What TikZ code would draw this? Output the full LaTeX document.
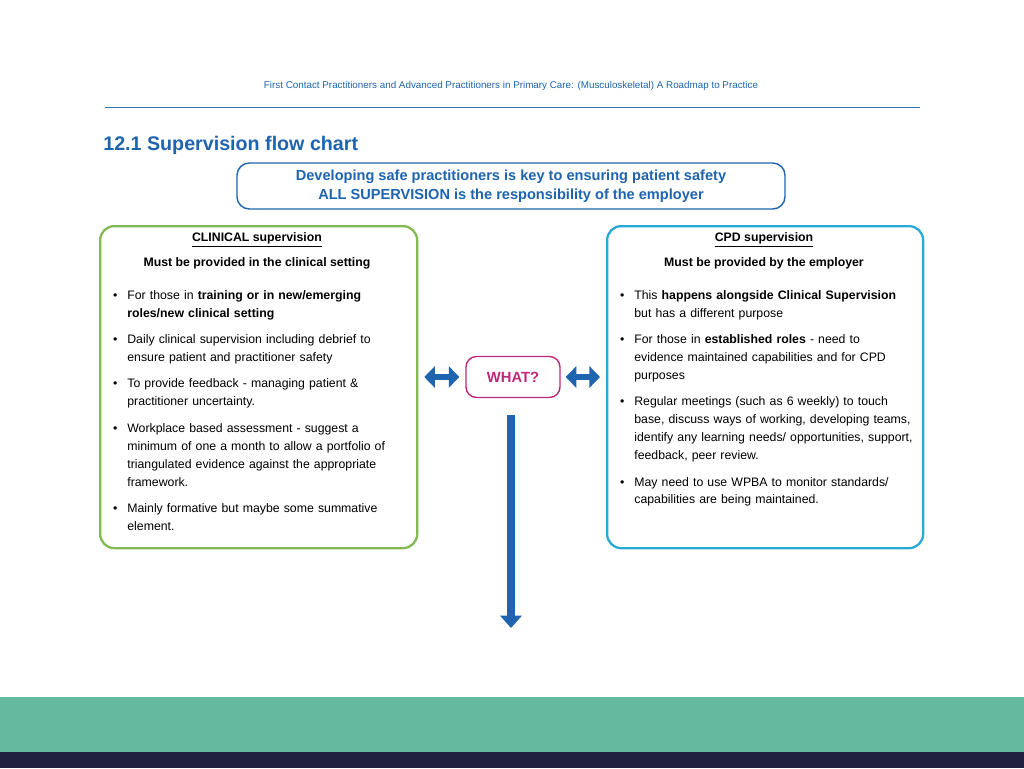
\documentclass[tikz,border=0pt]{standalone}
\usepackage{fontspec}
\setmainfont{Liberation Sans}
\usepackage{enumitem}
\usetikzlibrary{positioning, arrows.meta}
\definecolor{nhsblue}{RGB}{30,100,175}
\definecolor{rulegrey}{RGB}{60,110,170}
\definecolor{leafgreen}{RGB}{130,185,80}
\definecolor{skycyan}{RGB}{40,170,215}
\definecolor{plum}{RGB}{190,40,120}
\definecolor{teal}{RGB}{100,186,158}
\definecolor{navy}{RGB}{32,32,64}
\tikzstyle{panel}=[draw, line width=1.3pt, rounded corners=8pt, anchor=north west]
\tikzstyle{body}=[anchor=north west, text width=5.95cm, inner sep=0pt, align=left,
  font=\fontsize{7}{10.2}\selectfont]
\newcommand{\pts}[1]{\begin{itemize}[leftmargin=0.38cm, labelsep=0.2cm, itemsep=0.17cm, topsep=0pt, parsep=0pt]#1\end{itemize}}
\begin{document}
\begin{tikzpicture}[x=0.02cm, y=-0.02cm]
\useasboundingbox (0,0) rectangle (1024,768);
\fill[white] (0,0) rectangle (1024,768);
\fill[teal] (0,697) rectangle (1024,752);
\fill[navy] (0,752) rectangle (1024,768);

\node[text=nhsblue, font=\fontsize{5.6}{7}\selectfont] (head) at (511,86)
  {First Contact Practitioners and Advanced Practitioners in Primary Care: (Musculoskeletal) A Roadmap to Practice};
\draw[rulegrey, line width=0.5pt] (105,107) -- (920,107);
\node[anchor=west, text=nhsblue, font=\fontsize{11.2}{13}\selectfont\bfseries, inner sep=0pt] (title) at (103,145)
  {12.1 Supervision flow chart};

\node[draw=nhsblue, line width=0.8pt, rounded corners=7pt, minimum width=548*0.02cm, minimum height=46*0.02cm,
  align=center, text=nhsblue, font=\fontsize{8.3}{10.6}\selectfont\bfseries] (key) at (511,186)
  {Developing safe practitioners is key to ensuring patient safety\\ALL SUPERVISION is the responsibility of the employer};

% clinical side
\node[panel, draw=leafgreen, minimum width=317*0.02cm, minimum height=322*0.02cm] (clin) at (99,225) {};
\node[font=\fontsize{7}{9}\selectfont] (clinT) at (257,240) {\underline{\textbf{CLINICAL supervision}}};
\node[font=\fontsize{7}{9}\selectfont\bfseries] (clinS) at (257,263) {Must be provided in the clinical setting};
\node[body] (clinL) at (108,281) {\pts{
  \item For those in \textbf{training or in new/emerging roles/new clinical setting}
  \item Daily clinical supervision including debrief to ensure patient and practitioner safety
  \item To provide feedback - managing patient \& practitioner uncertainty.
  \item Workplace based assessment - suggest a minimum of one a month to allow a portfolio of triangulated evidence against the appropriate framework.
  \item Mainly formative but maybe some summative element.}};

% cpd side
\node[panel, draw=skycyan, minimum width=316*0.02cm, minimum height=322*0.02cm] (cpd) at (606,225) {};
\node[font=\fontsize{7}{9}\selectfont] (cpdT) at (764,240) {\underline{\textbf{CPD supervision}}};
\node[font=\fontsize{7}{9}\selectfont\bfseries] (cpdS) at (764,263) {Must be provided by the employer};
\node[body] (cpdL) at (615,281) {\pts{
  \item This \textbf{happens alongside Clinical Supervision} but has a different purpose
  \item For those in \textbf{established roles} - need to evidence maintained capabilities and for CPD purposes
  \item Regular meetings (such as 6 weekly) to touch base, discuss ways of working, developing teams, identify any learning needs/ opportunities, support, feedback, peer review.
  \item May need to use WPBA to monitor standards/ capabilities are being maintained.}};

% centre
\node[draw=plum, line width=0.8pt, rounded corners=6pt, minimum width=94*0.02cm, minimum height=41*0.02cm,
  text=plum, font=\fontsize{8.4}{10}\selectfont\bfseries] (what) at (513,377) {WHAT?};
\coordinate (down) at (511,628);
\draw[nhsblue, line width=3pt, {Triangle[width=12pt,length=6pt]}-{Triangle[width=12pt,length=6pt]}]
  ([xshift=-0.12cm]what.west) -- ([xshift=0.12cm]clin.east |- what.west);
\draw[nhsblue, line width=3pt, {Triangle[width=12pt,length=6pt]}-{Triangle[width=12pt,length=6pt]}]
  ([xshift=0.1cm]what.east) -- ([xshift=-0.12cm]cpd.west |- what.east);
\draw[nhsblue, line width=4pt, -{Triangle[width=12pt,length=7pt]}] ([yshift=-0.34cm]what.south -| down) -- (down);
\end{tikzpicture}
\end{document}
